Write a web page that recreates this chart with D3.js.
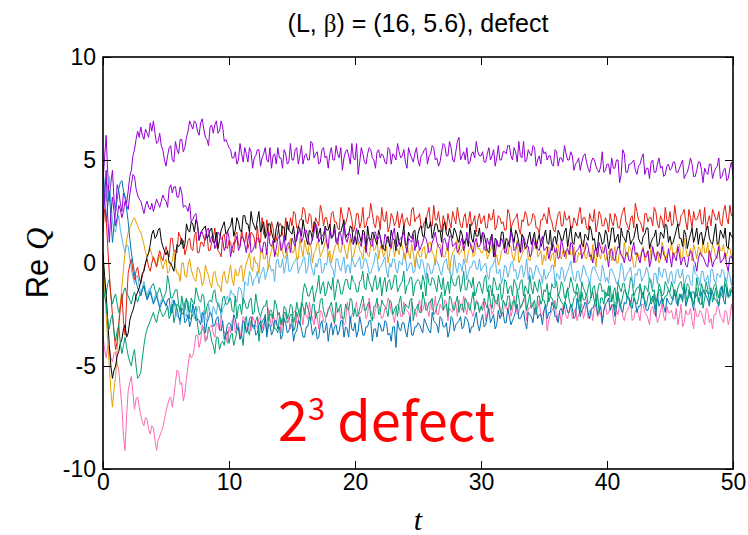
<!DOCTYPE html>
<html>
<head>
<meta charset="utf-8">
<script src="https://cdn.jsdelivr.net/npm/d3@7"></script>
<style>
  body { margin: 0; background: #fff; }
</style>
</head>
<body>
<div id="chart"></div>
<script>
// every series is sampled evenly from t = 0 to t = tMax
const tMax = 50;
const xTicks = [0, 10, 20, 30, 40, 50];
const yTicks = [-10, -5, 0, 5, 10];

const purpleA = [
  4.0,5.1, 6.2,4.4, 3.0,3.9, 4.5,3.1, 2.5,3.8, 3.5,2.9, 2.5,3.4, 3.2,2.9, 3.5,4.2, 4.5,5.2, 5.5,6.0, 6.4,6.1, 6.6,6.2, 6.0,6.5, 6.3,6.1, 6.8,6.4, 6.9,6.3, 5.8,5.9, 6.3,5.7, 5.5,5.0,
  4.7,5.2, 5.6,5.7, 5.0,4.9, 5.9,5.5, 5.3,6.0, 6.0,5.4, 5.6,6.1, 6.4,6.9, 6.7,6.5, 6.9,6.8, 6.4,6.2, 6.8,7.0, 6.5,6.1, 6.0,5.7, 6.6,6.7, 6.3,6.7, 6.9,6.3, 6.4,6.9, 6.6,5.9, 6.0,5.8,
  5.6,5.5, 5.1,5.1, 5.4,4.8, 5.0,5.8, 5.3,4.9, 5.6,5.3, 4.9,5.6, 5.4,4.6, 5.1,5.2, 5.5,5.5, 4.7,5.1, 5.3,5.6, 5.0,4.9, 5.6,4.6, 5.2,5.3, 4.8,5.6, 5.1,5.1, 4.6,5.5, 5.3,4.8, 4.9,5.8,
  5.0,5.0, 5.5,5.6, 4.8,5.2, 5.7,4.8, 5.2,5.3, 5.0,5.0, 5.9,5.8, 5.1,5.3, 5.4,4.8, 4.9,5.5, 5.6,5.1, 5.2,4.6, 5.3,5.6, 5.0,5.0, 5.7,5.3, 5.1,5.6, 4.5,5.1, 5.4,5.5, 5.2,4.8, 5.8,5.1,
  5.0,5.8, 4.3,4.9, 5.6,5.3, 4.9,4.8, 5.3,5.6, 5.5,5.1, 5.0,4.6, 5.4,5.5, 5.1,5.3, 5.2,4.9, 4.8,5.6, 5.5,4.8, 5.3,5.2, 5.0,5.8, 5.4,5.1, 5.2,5.5, 4.9,4.6, 5.6,5.3, 5.1,4.9, 5.3,5.6,
  5.0,4.7, 5.2,5.3, 5.5,5.6, 4.8,5.2, 5.3,5.7, 5.6,5.0, 5.1,4.7, 4.9,5.4, 5.8,5.7, 5.2,5.2, 5.9,5.6, 5.0,4.9, 5.4,5.9, 6.1,5.0, 5.2,5.4, 5.0,5.6, 4.8,4.9, 5.3,5.4, 5.1,5.9, 5.4,5.2,
  5.2,5.4, 4.9,4.9, 5.3,5.6, 5.0,5.2, 5.5,4.7, 5.1,5.7, 5.0,5.0, 5.4,5.4, 5.3,5.7, 5.7,5.2, 5.0,5.6, 5.4,4.9, 5.9,5.2, 5.1,5.9, 4.9,5.0, 5.5,5.3, 5.2,5.7, 5.6,4.7, 5.0,5.2, 4.8,5.6,
  5.3,5.4, 5.0,5.2, 5.2,4.8, 4.7,5.5, 5.4,4.7, 5.1,5.1, 4.9,5.7, 5.3,5.0, 5.0,5.4, 5.2,4.5, 4.8,4.9, 5.1,4.5, 4.9,5.2, 5.3,4.9, 4.6,4.4, 4.9,5.1, 5.0,4.7, 4.5,4.4, 4.7,5.4, 4.4,4.5,
  4.8,4.8, 4.3,5.1, 4.6,4.6, 5.0,5.0, 3.9,4.3, 5.5,5.3, 4.4,4.4, 4.8,4.8, 4.9,5.0, 4.5,4.3, 4.7,4.8, 5.1,5.3, 4.3,4.6, 4.6,4.1, 4.9,5.0, 4.4,4.4, 4.8,5.1, 4.6,4.7, 4.2,4.3, 4.7,4.8,
  4.5,4.6, 4.9,4.9, 4.4,4.4, 4.6,4.8, 5.0,4.1, 4.3,4.4, 4.7,5.1, 4.8,4.2, 4.2,4.5, 4.9,4.9, 4.5,3.9, 4.6,4.4, 4.3,4.8, 4.8,4.1, 4.4,4.6, 4.7,5.1, 4.1,4.2, 4.5,4.6, 4.0,4.1, 4.6,4.9, 4.3
];

const purpleB = [
  2.0,3.1, 4.5,2.2, 1.0,2.4, 3.2,2.5, 1.8,2.2, 2.8,2.6, 2.2,2.5, 3.0,2.8, 2.6,3.3, 3.8,4.3, 4.2,3.6, 3.3,3.1, 3.0,2.7, 2.4,2.8, 3.0,2.7, 2.6,2.9, 2.5,2.8, 3.1,2.9, 2.7,3.0, 3.3,3.1,
  3.0,2.7, 3.6,3.8, 3.4,3.7, 3.7,3.2, 3.2,3.7, 3.4,2.7, 2.8,2.7, 2.5,2.9, 2.0,2.1, 2.3,2.4, 1.8,1.1, 1.5,1.5, 1.2,1.1, 1.6,1.7, 1.0,1.3, 1.3,0.7, 0.9,1.5, 1.4,1.2, 1.1,0.6, 0.8,1.6,
  1.2,0.3, 0.7,1.0, 1.0,1.3, 0.6,0.8, 1.3,1.2, 0.9,0.5, 1.1,1.5, 0.5,0.6, 0.8,1.0, 1.2,1.2, 0.6,0.5, 1.0,1.0, 0.4,1.5, 0.9,0.8, 1.1,0.3, 0.7,1.2, 1.3,0.6, 0.8,1.3, 0.5,0.9, 1.0,0.5,
  1.2,1.0, 0.8,1.4, 1.4,1.7, 1.0,1.2, 1.6,1.6, 1.3,0.9, 0.9,1.2, 1.5,1.9, 1.7,1.0, 1.2,1.3, 1.4,1.7, 1.0,0.7, 1.6,1.2, 1.3,1.6, 1.1,0.9, 1.5,1.4, 0.9,1.9, 1.2,1.0, 1.4,1.4, 1.0,0.9,
  1.3,1.7, 1.1,1.0, 0.8,1.4, 1.4,0.5, 1.2,1.2, 0.9,0.8, 1.5,1.5, 1.1,1.2, 1.3,0.7, 0.7,1.4, 1.2,1.0, 1.0,0.7, 1.4,1.7, 0.8,0.8, 1.1,1.2, 1.3,1.5, 0.9,0.5, 1.2,1.1, 1.0,1.4, 0.6,1.0,
  1.1,0.6, 0.8,1.0, 1.3,1.2, 0.9,0.5, 0.6,1.0, 1.2,1.5, 1.0,0.8, 0.7,0.3, 1.1,1.2, 0.9,0.6, 1.3,1.3, 0.8,0.9, 1.0,0.5, 0.6,1.0, 1.2,0.6, 0.9,1.5, 1.1,1.0, 0.7,0.5, 1.0,1.2, 0.8,0.8,
  1.0,1.5, 0.7,0.6, 1.2,0.9, 0.9,1.3, 0.6,0.3, 1.1,0.8, 0.8,1.2, 1.0,0.5, 0.5,1.0, 0.9,1.5, 1.2,0.6, 0.7,1.0, 0.9,0.5, 0.6,1.3, 1.0,0.8, 0.8,0.3, 0.4,1.2, 0.9,1.0, 0.7,0.6, 1.0,1.3,
  0.6,0.7, 0.8,0.2, 0.5,0.9, 0.9,0.5, 0.7,0.2, 0.3,1.2, 0.8,0.3, 0.6,0.7, 0.4,1.0, 0.9,0.0, 0.5,0.6, 0.7,0.9, 0.2,0.5, 0.6,1.0, 0.8,0.3, 0.4,0.0, 0.6,0.7, 0.3,1.0, 0.7,0.5, 0.5,0.9,
  0.4,-0.2, 0.6,0.7, 0.2,0.1, 0.5,0.8, 0.7,0.4, 0.3,0.0, 0.5,0.5, 0.1,0.1, 0.6,1.0, 0.4,0.5, 0.2,0.0, 0.5,0.7, 0.3,0.3, 0.6,-0.2, 0.1,0.8, 0.4,0.1, 0.5,0.5, 0.2,0.8, 0.4,0.3, 0.0,0.7,
  0.3,-0.2, 0.5,0.3, 0.1,0.8, 0.4,-0.1, 0.2,0.3, -0.1,-0.2, 0.3,0.6, 0.5,0.1, 0.0,-0.4, 0.2,0.5, 0.4,0.3, 0.1,-0.1, -0.2,0.6, 0.3,-0.2, 0.1,0.2, 0.4,0.8, 0.0,0.1, 0.2,0.5, -0.1,-0.4, 0.3,0.3, 0.1
];

const black = [
  0.5,-0.6, -1.5,-2.8, -4.0,-5.0, -5.6,-5.2, -5.0,-4.5, -4.3,-3.9, -3.7,-3.2, -3.0,-3.6, -3.4,-2.8, -2.5,-2.3, -2.0,-1.6, -1.4,-1.2, -0.9,-0.5, -0.4,0.0, 0.3,0.5, 0.9,1.4, 1.6,1.2, 1.3,1.6, 1.7,1.1, 0.8,0.6,
  0.4,0.6, 0.0,0.0, -0.2,-0.4, 0.3,0.9, 0.8,0.9, 1.2,0.7, 0.9,1.9, 1.6,1.5, 2.0,1.9, 1.5,2.1, 1.9,1.1, 1.4,1.6, 1.7,1.8, 1.2,1.3, 1.6,1.7, 1.0,1.0, 1.5,0.7, 1.1,1.6, 1.8,2.0, 1.4,1.5,
  1.7,1.8, 2.2,1.3, 1.6,2.2, 2.0,1.6, 1.5,2.3, 2.3,1.9, 1.9,1.5, 2.5,2.0, 1.8,1.6, 2.1,2.5, 1.5,1.7, 2.0,1.2, 1.4,1.9, 1.9,1.5, 1.2,1.0, 1.7,2.0, 1.3,1.3, 1.8,1.7, 1.1,2.0, 1.6,1.5,
  1.4,1.8, 1.0,1.1, 1.8,1.6, 1.3,2.1, 1.6,1.2, 0.9,1.6, 1.5,1.1, 2.0,1.9, 1.2,1.4, 1.7,0.9, 1.1,1.8, 1.6,1.6, 1.9,1.2, 1.3,1.9, 1.0,1.1, 1.5,1.5, 1.8,2.1, 1.2,1.4, 1.4,1.8, 1.7,0.9,
  1.3,0.9, 1.6,1.3, 1.0,1.6, 1.5,0.6, 1.8,1.2, 1.1,1.5, 1.4,1.1, 0.9,1.6, 1.3,0.9, 0.7,0.6, 1.1,1.3, 0.8,1.6, 1.2,1.1, 0.6,1.5, 1.0,0.8, 1.3,1.8, 0.9,0.9, 1.5,1.3, 1.2,1.5, 1.6,0.8,
  1.4,1.7, 1.8,1.3, 1.3,2.2, 1.7,1.7, 2.0,1.2, 1.5,1.9, 1.9,1.5, 1.6,1.0, 1.8,2.0, 1.4,1.3, 1.7,1.4, 1.2,1.7, 1.5,1.2, 1.0,1.6, 1.4,0.9, 1.1,1.2, 0.8,1.9, 1.2,1.0, 1.6,1.3, 1.3,1.7,
  1.0,1.5, 1.4,1.0, 0.6,0.5, 1.2,1.4, 0.3,1.2, 1.1,0.8, 0.9,1.5, 1.5,0.7, 1.2,1.1, 0.8,1.7, 1.3,1.0, 1.6,1.4, 1.0,0.5, 1.4,1.2, 0.7,0.8, 1.2,1.5, 0.9,1.2, 1.5,0.7, 1.1,1.4, 0.8,1.0,
  1.3,1.6, 1.0,0.9, 1.6,0.6, 1.2,1.3, 0.9,1.6, 1.4,1.1, 1.1,1.5, 1.7,0.8, 1.3,1.8, 1.0,0.9, 1.5,1.3, 1.2,1.5, 0.9,0.8, 1.4,1.3, 1.1,1.8, 1.6,1.1, 1.2,0.6, 0.8,1.5, 1.3,0.9, 1.0,1.6,
  1.4,0.7, 1.1,1.7, 1.7,1.0, 1.2,1.4, 0.7,1.7, 1.3,1.2, 1.0,1.6, 1.5,0.9, 1.1,1.2, 1.6,1.9, 1.2,1.0, 0.9,1.3, 1.4,1.7, 1.7,0.7, 1.0,1.2, 1.3,1.6, 0.8,0.9, 1.5,1.4, 1.2,1.9, 1.8,1.0,
  1.3,0.9, 1.0,1.3, 1.6,1.9, 1.2,1.2, 0.8,1.6, 1.4,0.7, 1.1,1.4, 1.7,1.0, 1.3,1.7, 0.9,1.4, 1.5,0.9, 1.2,1.6, 1.8,1.2, 1.0,0.9, 1.4,1.9, 0.9,1.0, 1.6,1.4, 1.2,1.7, 0.8,0.7, 1.5,1.3, 1.2
];

const red = [
  1.5,2.6, 2.2,0.8, -0.5,-1.6, -2.5,-3.4, -4.2,-3.8, -3.0,-2.2, -1.5,-2.8, -3.5,-1.8, -0.5,-0.1, 0.2,-0.4, -0.8,-0.4, -0.2,-0.7, -1.0,-0.6, -0.3,0.0, 0.2,-0.2, -0.4,0.0, 0.3,0.1, -0.2,0.3, 0.6,0.3, 0.1,0.5,
  0.8,0.5, 0.3,1.2, 1.2,0.6, 0.6,0.5, 1.5,1.3, 0.9,1.1, 0.4,0.7, 1.1,1.2, 0.7,0.6, 1.3,1.5, 0.5,0.5, 1.0,1.0, 0.8,1.4, 1.4,0.6, 0.6,1.0, 1.2,1.7, 0.9,0.6, 0.5,0.3, 1.3,1.4, 0.8,0.7,
  1.1,1.0, 0.6,0.5, 1.4,1.5, 0.9,0.8, 1.6,1.2, 1.0,1.5, 0.7,1.0, 1.5,1.4, 1.2,0.7, 1.8,1.0, 1.0,2.2, 1.4,1.3, 2.1,1.6, 1.3,2.0, 1.7,1.0, 1.1,1.5, 1.9,1.9, 1.4,1.2, 2.2,1.7, 1.6,2.2,
  1.8,2.5, 2.4,1.7, 1.7,2.1, 2.1,2.7, 2.6,2.0, 1.9,2.4, 2.3,1.5, 1.6,2.2, 2.0,1.8, 2.8,2.5, 1.8,2.2, 2.2,1.7, 1.7,2.4, 2.5,2.0, 2.0,1.7, 1.6,2.7, 2.3,1.8, 1.9,2.2, 2.7,2.5, 2.1,1.5,
  1.8,2.4, 2.4,1.7, 2.0,2.7, 1.7,1.8, 2.2,2.2, 2.9,2.4, 1.9,1.7, 2.3,2.2, 1.6,2.7, 2.1,2.0, 2.5,1.5, 1.8,2.4, 2.2,1.8, 2.0,2.5, 1.7,2.1, 2.4,1.7, 2.1,2.2, 1.9,1.8, 2.6,2.7, 2.0,2.2,
  2.2,2.4, 1.7,1.7, 2.0,2.0, 2.4,2.7, 1.8,1.8, 2.8,2.1, 2.1,2.5, 1.9,1.5, 2.3,2.0, 1.6,2.4, 2.0,1.7, 2.5,2.2, 1.9,2.7, 2.2,1.8, 1.7,2.2, 2.4,1.7, 2.0,2.5, 1.8,2.0, 2.3,1.5, 2.1,2.4,
  1.9,2.1, 2.3,1.7, 1.7,2.4, 2.1,2.1, 2.6,1.6, 1.8,2.3, 2.2,1.9, 2.0,1.6, 1.6,2.6, 2.4,1.7, 1.9,2.1, 2.2,2.4, 1.7,1.4, 2.1,2.0, 2.5,2.3, 1.8,1.9, 2.0,2.4, 2.3,1.7, 1.7,1.4, 2.1,2.1,
  2.4,2.2, 1.9,2.7, 2.2,2.0, 1.6,1.5, 2.0,2.4, 2.5,1.8, 1.8,2.5, 2.1,2.1, 2.3,1.7, 1.7,2.2, 2.0,1.8, 2.4,2.7, 1.9,2.2, 2.2,1.7, 1.6,2.4, 2.1,2.0, 2.6,1.5, 1.9,2.5, 2.3,1.8, 1.8,2.2,
  2.0,1.5, 2.4,2.0, 1.8,2.4, 2.2,1.7, 1.7,2.2, 2.5,2.7, 2.0,1.8, 1.6,2.2, 2.3,1.7, 2.9,2.5, 2.1,2.0, 1.8,1.5, 2.4,2.4, 2.0,2.2, 2.2,1.8, 2.7,2.5, 1.9,1.7, 2.3,2.1, 1.7,2.7, 2.1,2.0,
  2.5,1.8, 1.9,2.8, 2.2,1.9, 1.8,2.3, 2.4,2.6, 2.0,1.6, 2.6,2.2, 1.7,2.5, 2.1,2.1, 2.3,2.6, 1.9,1.9, 2.7,1.6, 2.0,2.3, 1.8,2.6, 2.4,2.1, 2.1,2.5, 1.9,1.8, 2.5,2.8, 2.2,1.9, 2.8,2.3, 2.3
];

const orange = [
  0.3,-1.0, -2.5,-3.8, -5.0,-6.2, -7.0,-6.1, -5.5,-4.2, -3.0,-2.0, -1.2,-0.3, 0.5,1.1, 1.5,1.7, 1.9,2.1, 2.2,2.0, 1.8,1.6, 1.5,1.2, 0.9,0.5, 0.3,0.5, 0.7,0.4, 0.2,0.0, -0.2,0.1, 0.4,0.0, -0.3,0.0,
  0.2,-0.5, -0.4,0.0, 0.1,0.6, -0.2,-0.5, -0.5,-0.9, 0.0,0.0, -0.6,-0.7, -0.1,0.2, -0.3,-0.6, -0.8,-0.9, -0.2,-0.3, -0.6,-1.1, -0.9,-0.1, -0.4,-0.6, -1.0,-1.2, -0.5,-0.4, -0.8,-1.1, -1.1,-1.4, -0.6,-0.4, -0.9,-1.0,
  -0.5,-0.1, -0.8,-1.1, -0.3,-0.6, -0.6,-0.2, -0.1,-0.9, -0.4,0.0, 0.2,0.5, -0.2,-0.4, 0.3,0.0, 0.0,-0.5, 0.5,0.7, 0.2,0.2, 0.7,-0.3, 0.3,0.6, 0.9,0.4, 0.5,0.3, 1.0,1.0, 0.6,0.2, 0.3,0.6, 0.8,1.2,
  0.5,0.5, 0.9,0.2, 0.2,1.2, 0.7,0.3, 1.1,0.7, 0.4,1.0, 0.8,0.0, 0.5,0.6, 1.0,0.9, 0.3,0.5, 0.7,1.0, 1.2,0.3, 0.6,0.0, 0.4,0.7, 0.9,1.0, 0.6,0.5, 1.0,0.9, 0.5,0.2, 0.8,1.2, 0.3,0.3,
  0.7,1.0, 1.0,0.6, 0.5,0.2, 0.8,0.7, 0.4,0.3, 0.9,1.2, 0.6,0.7, 1.1,0.2, 0.7,0.9, 0.3,0.5, 0.8,0.0, 0.5,1.0, 1.0,0.3, 0.6,0.7, 0.4,1.0, 0.8,0.5, 0.1,0.9, 0.5,0.2, 0.9,0.5, -0.2,0.4,
  0.6,0.3, 0.3,0.7, 0.8,0.2, 0.5,1.0, 1.0,0.5, 0.4,-0.1, 0.7,0.9, 0.9,0.7, 0.3,0.3, 0.6,1.0, -0.5,0.2, 0.5,0.6, 0.8,1.2, 0.4,0.5, 0.7,0.9, 0.2,0.0, 0.6,0.7, 0.9,0.3, 0.4,1.0, 0.7,0.7,
  0.5,0.5, 0.8,0.8, 0.2,0.4, 0.6,0.9, 0.9,0.2, 0.4,-0.1, 0.1,0.6, 0.7,0.9, 0.5,0.4, 0.8,0.8, 0.3,0.1, 0.6,1.1, 0.0,0.2, 0.4,0.6, 0.7,0.8, 0.2,0.1, 0.5,0.6, 0.9,1.1, 0.3,0.4, 0.6,-0.1,
  0.4,0.1, 0.7,0.8, 0.1,0.4, 0.5,-0.2, 0.8,0.9, 0.3,0.2, 0.6,0.6, 0.2,0.9, 0.9,0.4, 0.4,0.8, 0.0,0.1, 0.5,0.4, 0.7,1.1, 0.3,0.2, 0.6,0.5, 0.1,0.9, 0.4,-0.2, 0.8,0.4, 0.2,0.8, 0.5,0.1,
  0.3,0.5, 0.7,0.1, 0.4,0.8, 0.0,0.0, 0.6,0.4, 0.2,1.0, 0.5,0.3, 0.8,0.7, 0.3,-0.2, -0.2,0.5, 0.4,0.1, 0.6,0.8, 0.1,0.5, 0.5,0.0, 0.9,0.7, 0.3,0.3, 0.6,0.0, 0.2,1.0, 0.7,0.1, 0.4,0.5,
  0.6,1.0, 0.2,0.5, 0.5,0.9, 0.9,0.2, 0.3,1.2, 0.7,0.3, 0.4,0.7, 0.1,0.9, 0.6,0.2, 0.8,0.7, 0.3,1.2, 0.5,0.5, 1.0,0.0, 0.4,0.9, 0.7,0.3, 0.2,1.0, 0.6,0.6, 0.9,0.2, 0.4,0.7, 0.7,0.3, 0.5
];

const skyBlue = [
  4.5,3.6, 3.0,3.8, 4.2,3.0, 2.0,1.6, 1.5,2.0, 2.3,1.6, 1.2,0.8, 0.5,0.9, 0.8,0.2, -0.3,-0.7, -1.0,-0.7, -0.6,-1.1, -1.5,-1.2, -0.9,-1.3, -1.6,-1.3, -1.2,-1.6, -1.9,-1.6, -1.4,-1.8, -2.1,-1.8, -1.7,-1.9,
  -2.0,-2.1, -2.4,-2.5, -1.8,-1.8, -2.3,-2.6, -2.6,-3.0, -2.1,-1.9, -2.5,-2.6, -2.0,-2.1, -2.4,-2.2, -2.7,-2.6, -2.2,-2.1, -2.6,-2.9, -2.3,-2.7, -2.8,-2.0, -2.4,-2.6, -2.1,-2.3, -2.5,-1.9, -2.0,-2.7, -2.2,-2.1, -1.8,-1.6,
  -1.9,-1.3, -1.5,-1.5, -1.7,-1.9, -1.2,-1.2, -1.4,-2.0, -0.9,-1.0, -1.1,-0.4, -0.6,-1.1, -0.8,-0.7, -0.4,-1.0, -0.6,-0.4, -0.2,-0.8, -0.5,-0.1, -0.1,-0.4, -0.3,-0.9, 0.1,0.2, -0.2,-0.2, 0.2,-0.5, -0.1,0.5, -0.4,-0.4,
  -0.2,0.0, 0.1,0.3, -0.5,-0.2, -0.1,0.2, 0.3,-0.5, -0.3,0.5, 0.0,-0.4, -0.6,0.0, -0.2,0.2, 0.2,-0.5, -0.4,0.0, -0.1,0.5, 0.1,-0.2, -0.3,-0.7, 0.2,0.2, -0.2,-0.4, 0.0,0.3, -0.5,-0.1, -0.1,-0.5, 0.3,0.0,
  -0.2,0.0, 0.1,0.3, -0.3,-0.2, 0.2,0.2, -0.1,-0.5, -0.5,-0.2, 0.0,0.5, 0.3,-0.4, -0.2,-0.1, 0.1,0.3, -0.4,-0.7, 0.0,-0.2, 0.2,0.2, -0.3,-0.5, 0.1,0.0, -0.1,0.5, 0.3,-0.4, -0.2,0.0, 0.0,-0.5, -0.4,0.3,
  -0.1,-0.3, 0.2,0.1, -0.3,-0.8, 0.0,-0.1, -0.5,-0.5, -0.2,0.2, 0.1,-0.1, -0.4,-0.6, -0.1,0.1, 0.2,-0.3, -0.3,-0.6, -0.6,0.4, -0.2,-0.5, 0.0,-0.1, -0.4,0.2, -0.1,-0.8, -0.5,-0.2, -0.2,0.1, 0.1,-0.3, -0.3,0.2,
  -0.4,-0.2, -0.1,0.0, -0.6,-0.8, -0.2,-0.2, 0.0,0.2, -0.5,-0.5, -0.3,-1.0, -0.7,-0.1, -0.2,-0.7, -0.4,0.0, 0.1,-0.4, -0.3,-0.8, -0.6,-0.2, -0.1,-0.7, -0.4,0.2, -0.8,-0.2, -0.3,-0.8, -0.5,-0.1, -0.2,-0.5, -0.6,-1.0,
  -0.3,-0.8, -0.7,-0.5, -0.4,-0.1, -0.1,-1.1, -0.5,-0.6, -0.8,-0.2, -0.3,-0.9, -0.6,-0.4, -0.2,0.1, -0.5,-0.8, -0.9,-0.4, -0.4,-0.9, -0.6,-0.1, -0.3,-0.6, -0.7,-1.1, -0.5,-0.2, -0.2,-0.4, -0.6,-0.8, -0.9,-0.1, -0.4,-0.9,
  -0.7,-1.0, -0.3,-0.3, -0.5,-0.7, -1.0,-1.0, -0.6,0.0, -0.2,-0.9, -0.7,-0.5, -0.4,-0.2, -0.8,-1.2, -0.5,-0.6, -0.3,-0.3, -0.9,-0.7, -0.6,-0.2, -0.4,-0.9, -0.8,-1.2, -0.5,-0.5, -1.0,-0.2, -0.6,-0.7, -0.3,-0.3, -0.7,-1.0,
  -0.5,-0.4, -0.9,-1.0, -0.4,-0.3, -0.7,-0.7, -0.3,-1.1, -0.8,-0.6, -0.6,-1.0, -1.1,-0.1, -0.5,-0.6, -0.7,-1.1, -0.4,-0.4, -0.9,-0.8, -0.6,-1.3, -0.3,-0.3, -0.8,-1.0, -0.5,-0.6, -0.7,-0.3, -0.4,-0.8, -0.9,-0.4, -0.6,-1.1, -0.5
];

const greenA = [
  -0.5,-1.1, -1.5,-1.0, -0.8,-1.6, -2.0,-1.7, -1.5,-2.0, -2.4,-2.1, -1.8,-1.4, -1.2,-1.5, -1.6,-1.8, -2.0,-1.6, -1.4,-1.7, -1.9,-1.6, -1.5,-1.3, -1.1,-1.4, -1.7,-1.5, -1.3,-1.1, -1.0,-1.3, -1.6,-1.4, -1.2,-1.5, -1.8,-1.6,
  -1.4,-0.6, -1.0,-1.7, -1.7,-1.5, -1.3,-1.3, -2.0,-2.4, -1.6,-2.1, -2.3,-1.8, -1.9,-2.7, -2.7,-2.5, -2.4,-2.1, -3.0,-3.5, -3.4,-3.2, -3.1,-3.8, -3.7,-3.1, -3.3,-3.8, -4.0,-4.4, -3.6,-3.6, -4.2,-3.9, -3.8,-4.0, -3.5,-3.3,
  -3.9,-3.5, -3.4,-4.0, -3.7,-3.3, -3.1,-3.7, -3.5,-4.0, -2.9,-2.6, -3.3,-3.5, -2.8,-3.1, -3.2,-2.8, -2.6,-3.8, -3.0,-2.9, -2.7,-2.6, -3.4,-3.0, -2.5,-2.5, -2.9,-3.2, -3.2,-3.4, -2.6,-2.7, -3.0,-2.4, -2.4,-2.9, -2.8,-2.5,
  -2.5,-3.3, -3.1,-2.4, -2.7,-3.0, -2.2,-1.4, -1.0,-1.2, -1.6,-1.6, -1.3,-1.1, -1.9,-1.5, -1.2,-0.6, -1.5,-1.1, -0.9,-1.6, -1.4,-0.9, -1.1,-1.3, -0.7,-1.8, -1.3,-0.8, -1.0,-1.5, -1.5,-1.1, -0.8,-0.8, -1.2,-1.3, -0.6,-0.9,
  -1.0,-1.4, -1.4,-0.9, -0.8,-0.4, -1.2,-1.3, -0.5,-0.9, -1.1,-1.4, -0.9,-0.6, -1.3,-1.1, -0.7,-1.6, -1.0,-0.7, -1.4,-0.9, -0.8,-1.3, -1.1,-0.6, -0.6,-1.4, -1.2,-1.0, -0.9,-0.4, -1.5,-1.1, -1.0,-0.7, -0.7,-1.6, -1.1,-0.9,
  -0.8,-0.9, -1.3,-0.6, -0.9,-1.6, -0.5,-1.0, -1.1,-0.7, -0.8,-1.1, -1.4,-0.6, -1.0,-1.3, -0.7,-1.6, -1.2,-0.9, -1.5,-0.6, -0.9,-1.1, -1.1,-0.7, -0.6,-1.4, -1.0,-0.4, -1.3,-1.3, -0.8,-0.9, -1.2,-0.7, -1.6,-1.4, -1.0,-0.9,
  -1.2,-1.5, -0.8,-0.6, -1.4,-1.1, -1.1,-1.6, -0.7,-0.9, -1.3,-1.3, -1.0,-1.8, -1.5,-0.8, -0.9,-1.5, -1.2,-1.1, -1.6,-0.8, -1.0,-1.3, -1.3,-0.9, -0.8,-1.6, -1.1,-1.3, -1.5,-0.6, -1.2,-1.5, -0.9,-1.2, -1.4,-0.8, -1.1,-1.8,
  -1.3,-1.4, -1.0,-1.9, -1.6,-1.0, -1.2,-1.2, -0.9,-1.6, -1.4,-0.9, -1.1,-1.7, -1.7,-1.3, -1.2,-0.7, -1.0,-1.4, -1.5,-1.0, -1.3,-1.9, -0.9,-1.2, -1.4,-1.6, -1.2,-0.9, -1.7,-1.2, -1.1,-1.7, -1.4,-1.0, -1.0,-1.4, -1.3,-1.7,
  -1.5,-1.6, -1.1,-1.9, -1.4,-1.2, -1.8,-0.9, -1.2,-1.4, -1.0,-1.0, -1.5,-1.7, -1.3,-0.7, -0.9,-1.6, -1.4,-1.2, -1.2,-1.0, -1.6,-1.7, -1.1,-1.2, -1.4,-0.7, -1.0,-1.4, -1.3,-1.9, -1.7,-1.0, -1.2,-1.6, -1.5,-0.9, -1.1,-1.3,
  -1.4,-0.9, -1.2,-1.6, -1.6,-1.2, -1.0,-0.9, -1.3,-1.4, -1.5,-1.0, -1.1,-1.7, -1.4,-1.4, -1.7,-0.7, -1.2,-1.6, -1.0,-1.3, -1.4,-0.9, -1.3,-1.9, -1.6,-1.4, -1.1,-1.0, -1.4,-1.7, -1.2,-1.2, -1.5,-0.7, -1.0,-1.6, -1.3,-1.2, -1.2
];

const greenB = [
  -1.0,-1.6, -2.0,-2.8, -3.2,-2.7, -2.5,-3.3, -3.8,-3.3, -3.0,-3.9, -4.4,-4.0, -3.6,-4.1, -4.5,-4.8, -5.0,-4.5, -4.2,-5.0, -5.6,-5.5, -5.3,-4.6, -4.0,-3.5, -3.2,-3.0, -2.8,-2.6, -2.4,-2.7, -2.9,-2.5, -2.2,-2.4, -2.6,-2.5,
  -2.3,-2.1, -2.7,-2.5, -2.0,-2.9, -2.5,-2.0, -2.1,-2.2, -2.4,-2.5, -1.9,-1.7, -2.2,-2.4, -1.7,-1.9, -2.0,-1.2, -1.5,-1.8, -1.9,-1.5, -1.6,-2.5, -2.1,-1.9, -1.8,-1.9, -1.4,-1.3, -1.9,-2.0, -2.2,-2.4, -1.7,-1.6, -2.0,-2.0,
  -1.8,-1.7, -2.3,-2.4, -1.6,-2.7, -2.1,-2.0, -2.5,-1.7, -1.9,-2.2, -2.2,-1.8, -1.7,-2.5, -2.4,-1.5, -2.0,-2.4, -2.6,-2.3, -2.1,-2.1, -1.8,-2.8, -2.3,-2.3, -2.7,-1.8, -2.0,-2.5, -2.4,-3.0, -2.8,-2.1, -2.2,-2.7, -2.5,-2.0,
  -2.1,-2.9, -2.6,-1.9, -2.3,-2.6, -1.9,-2.1, -2.5,-1.9, -2.2,-2.4, -2.8,-2.0, -2.0,-2.7, -2.4,-2.4, -1.8,-1.7, -2.3,-2.6, -2.6,-2.3, -2.1,-1.9, -2.4,-2.9, -1.9,-2.4, -2.2,-2.0, -2.7,-2.7, -2.0,-2.2, -2.3,-1.7, -1.8,-2.6,
  -2.2,-2.6, -2.5,-2.2, -1.9,-1.6, -2.3,-2.3, -2.0,-1.9, -2.6,-2.8, -2.1,-2.1, -1.7,-2.5, -2.4,-1.8, -2.0,-2.1, -2.3,-2.6, -1.8,-1.9, -2.5,-2.3, -2.1,-2.6, -1.9,-1.6, -2.4,-2.5, -2.0,-2.1, -2.2,-1.8, -1.7,-2.8, -2.3,-2.2,
  -2.0,-2.4, -2.4,-1.4, -1.8,-2.3, -2.2,-1.9, -1.9,-1.7, -2.5,-2.4, -2.1,-1.9, -1.7,-1.4, -2.3,-2.1, -2.0,-2.6, -1.6,-1.7, -2.2,-2.3, -1.9,-1.6, -2.4,-2.0, -2.0,-2.4, -1.7,-1.9, -2.1,-2.3, -1.8,-1.4, -2.3,-1.9, -1.9,-2.4,
  -2.1,-2.3, -1.7,-2.0, -2.2,-1.3, -1.9,-2.2, -1.5,-1.9, -2.0,-1.5, -2.3,-2.5, -1.8,-2.0, -2.1,-1.6, -1.6,-2.3, -1.9,-1.8, -2.2,-1.3, -1.7,-2.2, -2.0,-1.8, -1.5,-2.3, -1.9,-1.5, -2.2,-2.0, -1.8,-2.5, -1.6,-1.6, -2.0,-1.8,
  -1.8,-2.1, -2.1,-1.4, -1.6,-1.7, -1.9,-2.2, -2.2,-1.5, -1.7,-1.9, -2.0,-2.2, -1.5,-1.2, -1.8,-2.1, -2.1,-1.7, -1.6,-1.4, -1.9,-2.4, -1.4,-1.8, -1.8,-1.5, -2.0,-1.9, -1.6,-1.4, -1.9,-2.1, -1.5,-2.4, -1.7,-1.7, -2.0,-1.4,
  -1.6,-1.1, -1.9,-1.8, -1.5,-2.3, -1.8,-1.4, -2.1,-2.0, -1.6,-1.3, -1.4,-1.7, -1.8,-2.1, -1.5,-1.6, -1.9,-2.0, -1.7,-1.1, -1.4,-1.6, -1.8,-2.1, -1.6,-1.4, -2.0,-1.8, -1.5,-2.3, -1.7,-1.3, -1.3,-2.0, -1.8,-1.6, -1.6,-1.3,
  -1.5,-1.7, -1.8,-1.3, -1.4,-2.0, -1.7,-1.5, -1.9,-1.0, -1.5,-1.9, -1.3,-1.5, -1.7,-2.0, -1.6,-1.2, -1.9,-1.7, -1.4,-2.2, -1.7,-1.3, -1.5,-1.5, -1.2,-1.9, -1.6,-1.2, -1.8,-2.0, -1.4,-1.6, -1.7,-1.0, -1.3,-1.7, -1.6,-1.3, -1.5
];

const darkBlue = [
  4.8,3.2, 2.0,2.8, 3.5,2.2, 1.0,1.8, 2.5,3.1, 3.6,3.9, 4.0,3.5, 3.2,2.6, 2.0,1.2, 0.5,0.0, -0.5,-0.9, -1.2,-1.4, -1.6,-1.3, -1.1,-1.5, -1.8,-1.6, -1.4,-1.7, -2.0,-1.8, -1.6,-1.9, -2.2,-2.0, -1.8,-1.9,
  -2.1,-1.8, -1.7,-2.4, -2.4,-1.8, -2.0,-2.2, -2.6,-2.8, -2.2,-2.3, -2.9,-2.8, -2.5,-3.1, -2.8,-2.0, -2.3,-2.8, -2.7,-2.8, -3.0,-2.4, -2.6,-3.4, -2.9,-2.7, -2.4,-2.5, -3.1,-3.0, -2.7,-2.6, -3.2,-3.3, -2.8,-3.7, -3.4,-3.0,
  -2.9,-3.0, -3.3,-2.5, -2.7,-3.2, -3.1,-3.7, -3.5,-2.8, -2.9,-3.4, -3.2,-2.7, -2.6,-3.1, -3.0,-3.5, -3.4,-3.0, -2.8,-3.4, -3.2,-2.5, -3.6,-3.0, -3.0,-3.5, -3.3,-2.8, -2.8,-3.2, -3.1,-3.7, -3.5,-2.7, -2.9,-3.4, -3.3,-3.0,
  -3.0,-3.8, -3.4,-3.3, -2.8,-2.9, -3.2,-3.6, -3.6,-3.1, -3.1,-2.6, -2.9,-3.5, -3.3,-3.1, -3.7,-3.6, -3.0,-2.8, -3.4,-3.3, -2.9,-3.8, -3.2,-2.9, -3.5,-3.1, -3.0,-3.5, -3.3,-2.8, -2.8,-3.6, -3.1,-3.2, -3.6,-2.6, -3.2,-3.3,
  -2.9,-3.6, -3.3,-2.6, -3.0,-3.5, -3.5,-3.1, -3.1,-2.8, -2.8,-3.8, -3.2,-3.2, -3.6,-2.9, -3.0,-3.3, -3.3,-2.8, -2.9,-3.5, -3.4,-3.8, -3.1,-3.1, -4.1,-2.8, -3.2,-3.3, -2.9,-2.9, -3.3,-3.6, -3.0,-2.6, -3.5,-3.5, -3.1,-3.1,
  -2.9,-3.0, -3.2,-3.4, -2.7,-2.9, -3.1,-3.3, -3.4,-2.4, -2.8,-2.9, -3.0,-3.4, -2.6,-2.7, -3.1,-3.1, -2.9,-3.6, -3.3,-2.6, -2.7,-3.3, -3.0,-2.9, -2.8,-2.6, -3.2,-3.1, -2.6,-2.7, -2.9,-3.4, -3.1,-3.1, -2.7,-2.4, -3.0,-3.3,
  -2.8,-2.5, -3.1,-3.0, -2.6,-2.2, -2.9,-2.7, -2.5,-3.2, -3.0,-2.3, -2.7,-2.5, -2.4,-2.9, -2.9,-2.2, -2.6,-3.0, -2.8,-2.6, -2.3,-2.0, -2.7,-2.7, -2.5,-2.3, -2.9,-3.2, -2.4,-2.5, -2.6,-2.9, -2.2,-2.2, -2.7,-2.5, -2.5,-3.0,
  -2.3,-2.0, -2.7,-2.4, -2.4,-1.9, -2.1,-2.6, -2.6,-2.9, -2.3,-2.2, -2.5,-1.9, -2.0,-2.4, -2.4,-2.0, -2.2,-2.7, -2.6,-1.7, -2.1,-2.6, -2.3,-2.2, -1.9,-2.0, -2.4,-2.7, -2.2,-2.2, -2.0,-1.7, -2.5,-2.4, -2.1,-2.9, -2.3,-2.0,
  -1.9,-1.7, -2.3,-2.1, -2.0,-2.6, -2.2,-1.6, -1.8,-2.3, -2.4,-1.9, -2.0,-1.6, -1.7,-2.1, -2.2,-1.7, -1.9,-2.4, -2.1,-2.1, -1.6,-1.4, -2.0,-2.3, -2.3,-2.0, -1.8,-1.6, -2.0,-2.6, -1.5,-2.1, -1.9,-1.7, -2.1,-2.4, -1.7,-1.9,
  -2.0,-2.0, -1.6,-1.3, -1.9,-2.1, -1.5,-1.7, -1.8,-1.1, -2.1,-1.8, -1.6,-1.4, -1.9,-2.3, -1.4,-1.6, -1.7,-2.0, -2.0,-1.3, -1.5,-1.6, -1.8,-2.1, -1.3,-1.4, -1.7,-1.8, -1.9,-2.1, -1.5,-1.1, -1.8,-2.0, -1.2,-1.6, -1.6,-1.3, -1.5
];

const pink = [
  -3.5,-4.2, -4.6,-4.0, -4.1,-4.6, -4.8,-4.4, -4.3,-4.9, -5.2,-6.1, -7.0,-8.4, -9.1,-7.4, -6.2,-5.8, -5.5,-6.3, -7.1,-6.6, -6.5,-7.0, -7.4,-7.7, -7.9,-7.5, -7.6,-8.1, -8.3,-7.9, -8.0,-8.6, -9.1,-8.6, -8.4,-8.2, -8.0,-7.6,
  -7.2,-6.9, -6.6,-6.5, -7.0,-6.5, -5.8,-5.2, -5.3,-5.9, -5.8,-6.7, -6.3,-5.6, -5.0,-4.4, -4.6,-4.5, -4.1,-3.5, -3.5,-4.1, -3.8,-3.0, -3.3,-3.8, -3.6,-3.3, -3.1,-3.0, -3.4,-3.6, -2.9,-3.0, -3.3,-2.6, -3.0,-3.4, -3.5,-3.9,
  -3.1,-3.4, -2.8,-2.7, -3.4,-3.1, -2.9,-3.6, -3.2,-2.6, -2.7,-3.3, -3.0,-2.9, -3.3,-2.6, -2.8,-3.1, -3.1,-2.7, -2.6,-3.2, -2.9,-2.9, -3.2,-2.2, -2.7,-3.1, -2.5,-2.8, -3.0,-2.4, -2.6,-3.4, -2.9,-2.9, -2.4,-2.5, -2.8,-3.2,
  -2.6,-2.4, -2.3,-2.9, -2.9,-2.2, -2.5,-3.0, -2.2,-2.6, -2.7,-1.9, -2.4,-2.7, -3.0,-2.3, -2.6,-3.2, -2.3,-2.4, -2.8,-2.9, -2.5,-2.2, -2.1,-2.4, -2.7,-3.0, -2.4,-2.3, -2.2,-2.7, -2.6,-3.0, -2.9,-1.9, -2.3,-2.9, -2.5,-2.4,
  -2.2,-1.9, -2.6,-2.4, -2.4,-2.0, -2.0,-2.7, -2.5,-1.7, -2.3,-2.6, -2.7,-2.2, -2.1,-2.0, -2.4,-2.7, -2.6,-2.2, -2.2,-1.7, -1.9,-2.4, -2.5,-2.9, -2.3,-2.0, -2.1,-2.6, -2.6,-1.9, -2.2,-2.3, -2.4,-2.7, -1.9,-2.2, -2.3,-2.6,
  -2.1,-1.8, -2.4,-2.3, -2.0,-1.9, -2.3,-2.6, -1.8,-2.3, -2.2,-1.6, -2.5,-2.5, -2.0,-2.2, -2.3,-1.8, -1.9,-2.8, -2.2,-2.3, -2.4,-1.9, -2.0,-2.6, -1.8,-2.1, -2.3,-1.6, -2.1,-2.5, -1.9,-2.1, -2.4,-2.6, -2.2,-1.8, -2.0,-2.3,
  -2.2,-1.9, -1.9,-2.8, -2.4,-2.1, -2.0,-2.5, -2.3,-1.8, -1.8,-2.1, -2.1,-2.6, -2.5,-1.9, -2.2,-2.3, -1.9,-2.6, -2.3,-1.6, -2.0,-2.5, -2.4,-2.1, -2.1,-1.8, -1.8,-2.8, -2.2,-2.2, -2.0,-1.9, -2.5,-2.3, -2.2,-1.8, -2.6,-2.5,
  -2.3,-2.1, -3.3,-2.8, -2.5,-2.3, -2.2,-1.8, -2.8,-2.5, -2.4,-3.0, -2.1,-2.1, -2.6,-2.7, -2.3,-2.0, -2.7,-2.4, -2.2,-2.8, -2.5,-2.3, -2.0,-2.7, -2.4,-1.8, -2.7,-2.3, -2.3,-2.8, -2.1,-2.1, -2.6,-2.5, -2.4,-3.0, -2.2,-2.0,
  -2.5,-2.4, -2.2,-2.0, -2.7,-3.0, -2.3,-2.5, -2.0,-2.1, -2.6,-2.8, -2.4,-2.3, -2.1,-1.8, -2.8,-2.7, -2.3,-2.3, -2.5,-2.8, -2.0,-2.0, -2.4,-2.5, -2.7,-3.0, -2.2,-2.1, -2.5,-2.3, -2.9,-2.7, -2.3,-2.0, -2.6,-2.8, -2.1,-2.4,
  -2.4,-2.3, -2.7,-2.7, -2.2,-3.0, -2.6,-2.0, -3.1,-2.9, -2.3,-2.5, -2.5,-2.2, -2.8,-3.2, -2.2,-2.6, -2.6,-2.3, -2.4,-2.7, -3.0,-2.2, -2.3,-2.9, -2.7,-3.2, -2.5,-2.5, -2.1,-2.2, -2.6,-2.7, -2.9,-2.3, -2.4,-3.0, -2.7,-2.0, -2.5
];

// drawing order follows the gnuplot line types
const seriesList = [
  { key: "purpleA", values: purpleA, color: "#9400d3" },
  { key: "greenA", values: greenA, color: "#009e73" },
  { key: "skyBlue", values: skyBlue, color: "#56b4e9" },
  { key: "orange", values: orange, color: "#e69f00" },
  { key: "pink", values: pink, color: "#ff69b4" },
  { key: "darkBlue", values: darkBlue, color: "#0072b2" },
  { key: "red", values: red, color: "#e51e10" },
  { key: "black", values: black, color: "#000000" },
  { key: "purpleB", values: purpleB, color: "#9400d3" },
  { key: "greenB", values: greenB, color: "#009e73" },
];

const width = 748;
const height = 535;
const margin = { top: 57, right: 15, bottom: 66, left: 103 };
const sansFont = "'Liberation Sans', Arial, Helvetica, sans-serif";
const serifFont = "'Liberation Serif', 'Times New Roman', serif";

const svg = d3.select("#chart")
  .append("svg")
  .attr("width", width)
  .attr("height", height)
  .style("background", "#fff");

const xScale = d3.scaleLinear()
  .domain([0, tMax])
  .range([margin.left, width - margin.right]);

const yScale = d3.scaleLinear()
  .domain([-10, 10])
  .range([height - margin.bottom, margin.top]);

const plotW = xScale.range()[1] - xScale.range()[0];
const plotH = yScale.range()[0] - yScale.range()[1];

svg.append("clipPath")
  .attr("id", "plot-clip")
  .append("rect")
  .attr("x", margin.left)
  .attr("y", margin.top)
  .attr("width", plotW)
  .attr("height", plotH);

svg.append("g")
  .attr("clip-path", "url(#plot-clip)")
  .selectAll(".series")
  .data(seriesList)
  .join("path")
  .attr("class", "series")
  .attr("fill", "none")
  .attr("stroke", (d) => d.color)
  .attr("stroke-width", 1)
  .attr("stroke-linejoin", "round")
  .attr("d", (d) => {
    const step = tMax / (d.values.length - 1);
    return d3.line()
      .x((v, i) => xScale(i * step))
      .y((v) => yScale(v))(d.values);
  });

// axes, ticks pointing inward, mirrored on top and right
const tickLen = 8;
const plainNum = (d) => String(d); // keep ASCII hyphen for negatives
const bottomAxis = svg.append("g")
  .attr("transform", `translate(0,${yScale(-10)})`)
  .call(d3.axisBottom(xScale).tickValues(xTicks).tickFormat(plainNum).tickSize(-tickLen).tickPadding(5));
const leftAxis = svg.append("g")
  .attr("transform", `translate(${xScale(0)},0)`)
  .call(d3.axisLeft(yScale).tickValues(yTicks).tickFormat(plainNum).tickSize(-tickLen).tickPadding(7));
const topAxis = svg.append("g")
  .attr("transform", `translate(0,${yScale(10)})`)
  .call(d3.axisTop(xScale).tickValues(xTicks).tickSize(-tickLen).tickFormat(""));
const rightAxis = svg.append("g")
  .attr("transform", `translate(${xScale(tMax)},0)`)
  .call(d3.axisRight(yScale).tickValues(yTicks).tickSize(-tickLen).tickFormat(""));

[bottomAxis, leftAxis, topAxis, rightAxis].forEach((g) => {
  g.select(".domain").remove();
  g.selectAll(".tick line").attr("stroke", "#000").attr("stroke-width", 1);
  g.selectAll(".tick text")
    .attr("fill", "#000")
    .style("font-family", sansFont)
    .style("font-size", "23px");
});

// frame
svg.append("rect")
  .attr("x", margin.left)
  .attr("y", margin.top)
  .attr("width", plotW)
  .attr("height", plotH)
  .attr("fill", "none")
  .attr("stroke", "#000")
  .attr("stroke-width", 1.6);

// title
const title = svg.append("text")
  .attr("x", xScale(25))
  .attr("y", 32)
  .attr("text-anchor", "middle")
  .style("font-family", sansFont)
  .style("font-size", "25px")
  .attr("fill", "#000");
title.append("tspan").text("(L, ");
title.append("tspan").style("font-family", serifFont).text("β");
title.append("tspan").text(") = (16, 5.6), defect");

// x axis label
svg.append("text")
  .attr("x", xScale(25))
  .attr("y", 530)
  .attr("text-anchor", "middle")
  .style("font-family", serifFont)
  .style("font-style", "italic")
  .style("font-size", "30px")
  .text("t");

// y axis label
const yLabel = svg.append("text")
  .attr("transform", `translate(48,${yScale(0)}) rotate(-90)`)
  .attr("text-anchor", "middle")
  .style("font-size", "31px");
yLabel.append("tspan").style("font-family", sansFont).text("Re ");
yLabel.append("tspan").style("font-family", serifFont).style("font-style", "italic").text("Q");

// annotation
const note = svg.append("text")
  .attr("x", 278)
  .attr("y", 441)
  .attr("fill", "#ff0000")
  .style("font-family", "'Noto Sans CJK JP', 'Noto Sans', sans-serif")
  .style("font-size", "54px");
note.append("tspan").text("2");
note.append("tspan").attr("dy", -21).style("font-size", "31px").text("3");
note.append("tspan").attr("dy", 21).text(" defect");
</script>
</body>
</html>
